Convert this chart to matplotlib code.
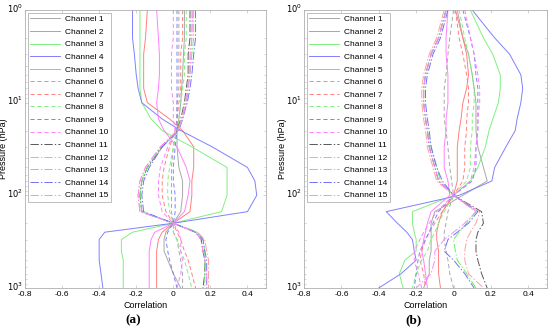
import matplotlib
matplotlib.use("Agg")
import matplotlib.pyplot as plt
import matplotlib.transforms as mtransforms
from matplotlib.ticker import LogLocator, FixedLocator

plt.rcParams['font.family'] = ['Liberation Sans', 'DejaVu Sans']
plt.rcParams['lines.scale_dashes'] = False

pressure = [1, 2, 3, 5, 7, 10, 15, 20, 30, 50, 70, 100, 150, 200, 250, 300, 400, 500, 700, 1000]
channels = ['Channel %d' % i for i in range(1, 16)]

# panel (a) correlation profiles
corr_a = [
    [0.06, 0.06, 0.055, 0.05, 0.045, 0.04, 0.03, 0.02, 0.02, 0.03, 0.05, 0.05, 0.04, 0.0, -0.04, -0.05, -0.05, -0.03, 0.0, 0.04],
    [-0.14, -0.15, -0.16, -0.16, -0.16, -0.14, -0.02, 0.05, 0.11, 0.11, 0.10, 0.10, 0.09, 0.0, -0.06, -0.08, -0.09, -0.09, -0.09, -0.09],
    [-0.18, -0.18, -0.18, -0.18, -0.18, -0.17, -0.12, -0.06, 0.10, 0.29, 0.29, 0.29, 0.26, 0.0, -0.22, -0.28, -0.28, -0.27, -0.27, -0.27],
    [-0.22, -0.22, -0.21, -0.20, -0.19, -0.17, -0.06, 0.04, 0.21, 0.40, 0.44, 0.45, 0.40, 0.0, -0.37, -0.40, -0.40, -0.40, -0.39, -0.38],
    [-0.09, -0.08, -0.075, -0.075, -0.08, -0.09, -0.08, -0.05, 0.02, 0.07, 0.09, 0.08, 0.06, 0.0, -0.10, -0.12, -0.13, -0.13, -0.13, -0.13],
    [0.03, 0.03, 0.03, 0.03, 0.03, 0.02, 0.02, 0.02, 0.0, -0.01, -0.01, -0.01, -0.01, 0.0, 0.0, 0.02, 0.03, 0.04, 0.05, 0.05],
    [0.05, 0.05, 0.04, 0.04, 0.04, 0.03, 0.02, 0.01, -0.02, -0.05, -0.06, -0.06, -0.04, 0.0, 0.02, 0.04, 0.06, 0.08, 0.10, 0.12],
    [0.07, 0.07, 0.06, 0.06, 0.05, 0.04, 0.03, 0.02, 0.0, -0.02, -0.03, -0.03, -0.02, 0.0, 0.0, 0.02, 0.04, 0.06, 0.08, 0.10],
    [0.02, 0.02, 0.02, 0.02, 0.02, 0.02, 0.02, 0.02, 0.01, 0.0, 0.0, 0.01, 0.01, 0.0, -0.03, -0.04, -0.03, -0.02, 0.0, 0.02],
    [0.0, 0.0, -0.01, -0.01, -0.01, 0.0, 0.0, 0.01, -0.03, -0.07, -0.08, -0.08, -0.06, 0.0, 0.03, 0.04, 0.04, 0.05, 0.04, 0.02],
    [0.09, 0.09, 0.08, 0.08, 0.07, 0.06, 0.04, 0.02, -0.06, -0.14, -0.17, -0.18, -0.17, 0.0, 0.12, 0.15, 0.16, 0.17, 0.17, 0.16],
    [0.10, 0.10, 0.09, 0.085, 0.075, 0.065, 0.045, 0.02, -0.07, -0.15, -0.18, -0.19, -0.18, 0.0, 0.13, 0.17, 0.18, 0.19, 0.19, 0.19],
    [0.11, 0.11, 0.10, 0.09, 0.08, 0.07, 0.05, 0.025, -0.065, -0.14, -0.17, -0.18, -0.17, 0.0, 0.13, 0.16, 0.17, 0.17, 0.17, 0.17],
    [0.12, 0.12, 0.11, 0.10, 0.09, 0.075, 0.05, 0.03, -0.06, -0.13, -0.16, -0.17, -0.16, 0.0, 0.12, 0.16, 0.17, 0.18, 0.18, 0.18],
    [0.105, 0.10, 0.095, 0.09, 0.08, 0.07, 0.05, 0.025, -0.07, -0.15, -0.18, -0.19, -0.18, 0.0, 0.12, 0.15, 0.16, 0.17, 0.18, 0.18],
]

# panel (b) correlation profiles
corr_b = [
    [0.02, 0.05, 0.08, 0.10, 0.11, 0.12, 0.12, 0.12, 0.13, 0.16, 0.18, 0.05, -0.10, -0.12, -0.12, -0.12, -0.12, -0.13, -0.13, -0.16],
    [0.01, 0.05, 0.07, 0.08, 0.07, 0.05, 0.04, 0.03, 0.02, 0.02, 0.02, 0.0, -0.06, -0.08, -0.09, -0.09, -0.08, -0.08, -0.08, -0.07],
    [0.09, 0.16, 0.21, 0.25, 0.25, 0.24, 0.21, 0.19, 0.17, 0.13, 0.09, 0.0, -0.22, -0.22, -0.21, -0.20, -0.20, -0.26, -0.29, -0.27],
    [0.10, 0.22, 0.30, 0.36, 0.37, 0.36, 0.34, 0.33, 0.28, 0.22, 0.205, 0.03, -0.36, -0.30, -0.25, -0.22, -0.21, -0.20, -0.28, -0.40],
    [-0.03, -0.04, -0.04, -0.03, -0.03, -0.03, -0.04, -0.04, -0.05, -0.05, -0.03, -0.02, -0.12, -0.14, -0.15, -0.16, -0.17, -0.16, -0.15, -0.14],
    [0.0, -0.02, -0.03, -0.04, -0.05, -0.05, -0.05, -0.04, -0.03, -0.02, -0.01, 0.0, -0.03, -0.04, -0.05, -0.05, -0.04, -0.03, -0.02, 0.0],
    [0.01, 0.03, 0.05, 0.07, 0.08, 0.08, 0.07, 0.07, 0.06, 0.06, 0.05, 0.0, -0.06, -0.10, -0.13, -0.15, -0.17, -0.18, -0.16, -0.15],
    [0.03, 0.06, 0.08, 0.10, 0.11, 0.11, 0.10, 0.10, 0.09, 0.09, 0.07, 0.0, -0.05, -0.08, -0.10, -0.12, -0.14, -0.17, -0.20, -0.22],
    [0.05, 0.09, 0.11, 0.12, 0.13, 0.13, 0.13, 0.13, 0.12, 0.12, 0.10, 0.0, -0.08, -0.11, -0.13, -0.15, -0.18, -0.19, -0.20, -0.21],
    [0.06, 0.09, 0.11, 0.13, 0.14, 0.14, 0.13, 0.13, 0.12, 0.11, 0.09, 0.0, -0.09, -0.13, -0.16, -0.18, -0.21, -0.21, -0.19, -0.17],
    [-0.04, -0.08, -0.12, -0.15, -0.16, -0.16, -0.15, -0.14, -0.13, -0.10, -0.08, 0.0, 0.15, 0.16, 0.13, 0.12, 0.12, 0.13, 0.15, 0.18],
    [-0.05, -0.09, -0.13, -0.16, -0.17, -0.17, -0.16, -0.15, -0.14, -0.11, -0.09, 0.0, 0.14, 0.12, 0.09, 0.07, 0.06, 0.06, 0.08, 0.16],
    [-0.04, -0.08, -0.12, -0.15, -0.16, -0.16, -0.15, -0.14, -0.12, -0.09, -0.07, 0.0, 0.12, 0.07, 0.03, 0.0, 0.01, 0.02, 0.07, 0.12],
    [-0.03, -0.07, -0.11, -0.14, -0.15, -0.15, -0.14, -0.13, -0.12, -0.09, -0.06, 0.0, 0.13, 0.08, 0.02, -0.03, -0.05, 0.0, 0.06, 0.11],
    [-0.04, -0.08, -0.12, -0.15, -0.16, -0.16, -0.15, -0.14, -0.13, -0.10, -0.08, 0.0, 0.12, 0.06, 0.0, -0.05, -0.10, -0.10, -0.12, -0.20],
]

colors = ['#a8a8a8', '#ff8080', '#80f080', '#8080ff', '#ff80ff',
          '#a8a8a8', '#ff8080', '#80f080', '#8080ff', '#ff80ff',
          '#585858', '#ffa0a0', '#66f066', '#7070ff', '#ff88ff']
styles = ['-'] * 5 + [(0, (3, 2))] * 5 + [(0, (6, 1.5, 1, 1.5))] * 5

fig = plt.figure(figsize=(5.5, 3.36), dpi=100)
ax_a = fig.add_axes([25 / 550, 48 / 336, 241 / 550, 278 / 336])
ax_b = fig.add_axes([304 / 550, 48 / 336, 243 / 550, 278 / 336])

for ax, data, tag in [(ax_a, corr_a, '(a)'), (ax_b, corr_b, '(b)')]:
    for i in range(15):
        ax.plot(data[i], pressure, color=colors[i], linestyle=styles[i], lw=0.7, label=channels[i])
    ax.set_yscale('log')
    ax.set_ylim(1000, 1)
    ax.set_xlim(-0.8, 0.5)
    ax.xaxis.set_major_locator(FixedLocator([-0.8, -0.6, -0.4, -0.2, 0, 0.2, 0.4]))
    ax.set_xticklabels(['-0.8', '-0.6', '-0.4', '-0.2', '0', '0.2', '0.4'])
    ax.yaxis.set_major_locator(FixedLocator([1, 10, 100, 1000]))
    ax.set_yticklabels([r'$10^{0}$', r'$10^{1}$', r'$10^{2}$', r'$10^{3}$'])
    ax.yaxis.set_minor_locator(LogLocator(base=10, subs=range(2, 10), numticks=5))
    ax.tick_params(direction='in', labelsize=6, length=2.5, width=0.4, colors='#b0b0b0',
                   labelcolor='black', top=True, right=True, pad=2)
    ax.tick_params(axis='y', pad=1.5)
    ax.tick_params(which='minor', direction='in', length=1.5, width=0.4, colors='#b0b0b0', right=True)
    # lift the y labels a little, as in the original
    lift = mtransforms.ScaledTranslation(0, 2.5 / 100, fig.dpi_scale_trans)
    for lab in ax.get_yticklabels():
        lab.set_transform(lab.get_transform() + lift)
    for s in ax.spines.values():
        s.set_color('#b0b0b0')
        s.set_linewidth(0.6)
    ax.set_xlabel('Correlation', fontsize=6.5, labelpad=2)
    ax.set_ylabel('Pressure (hPa)', fontsize=6.5)
    ax.yaxis.set_label_coords(-0.07, 0.5)
    leg = ax.legend(loc='upper left', fontsize=6, frameon=True, fancybox=False,
                    handlelength=3.6, handletextpad=0.5, labelspacing=0.57,
                    borderpad=0.35, borderaxespad=0.3)
    leg.get_frame().set_edgecolor('#a0a0a0')
    leg.get_frame().set_linewidth(0.6)
    ax.text(0.45, -0.115, tag, transform=ax.transAxes, ha='center', va='center',
            fontsize=9.5, fontweight='bold', family='Liberation Serif')

fig.savefig('out.png', dpi=100)
